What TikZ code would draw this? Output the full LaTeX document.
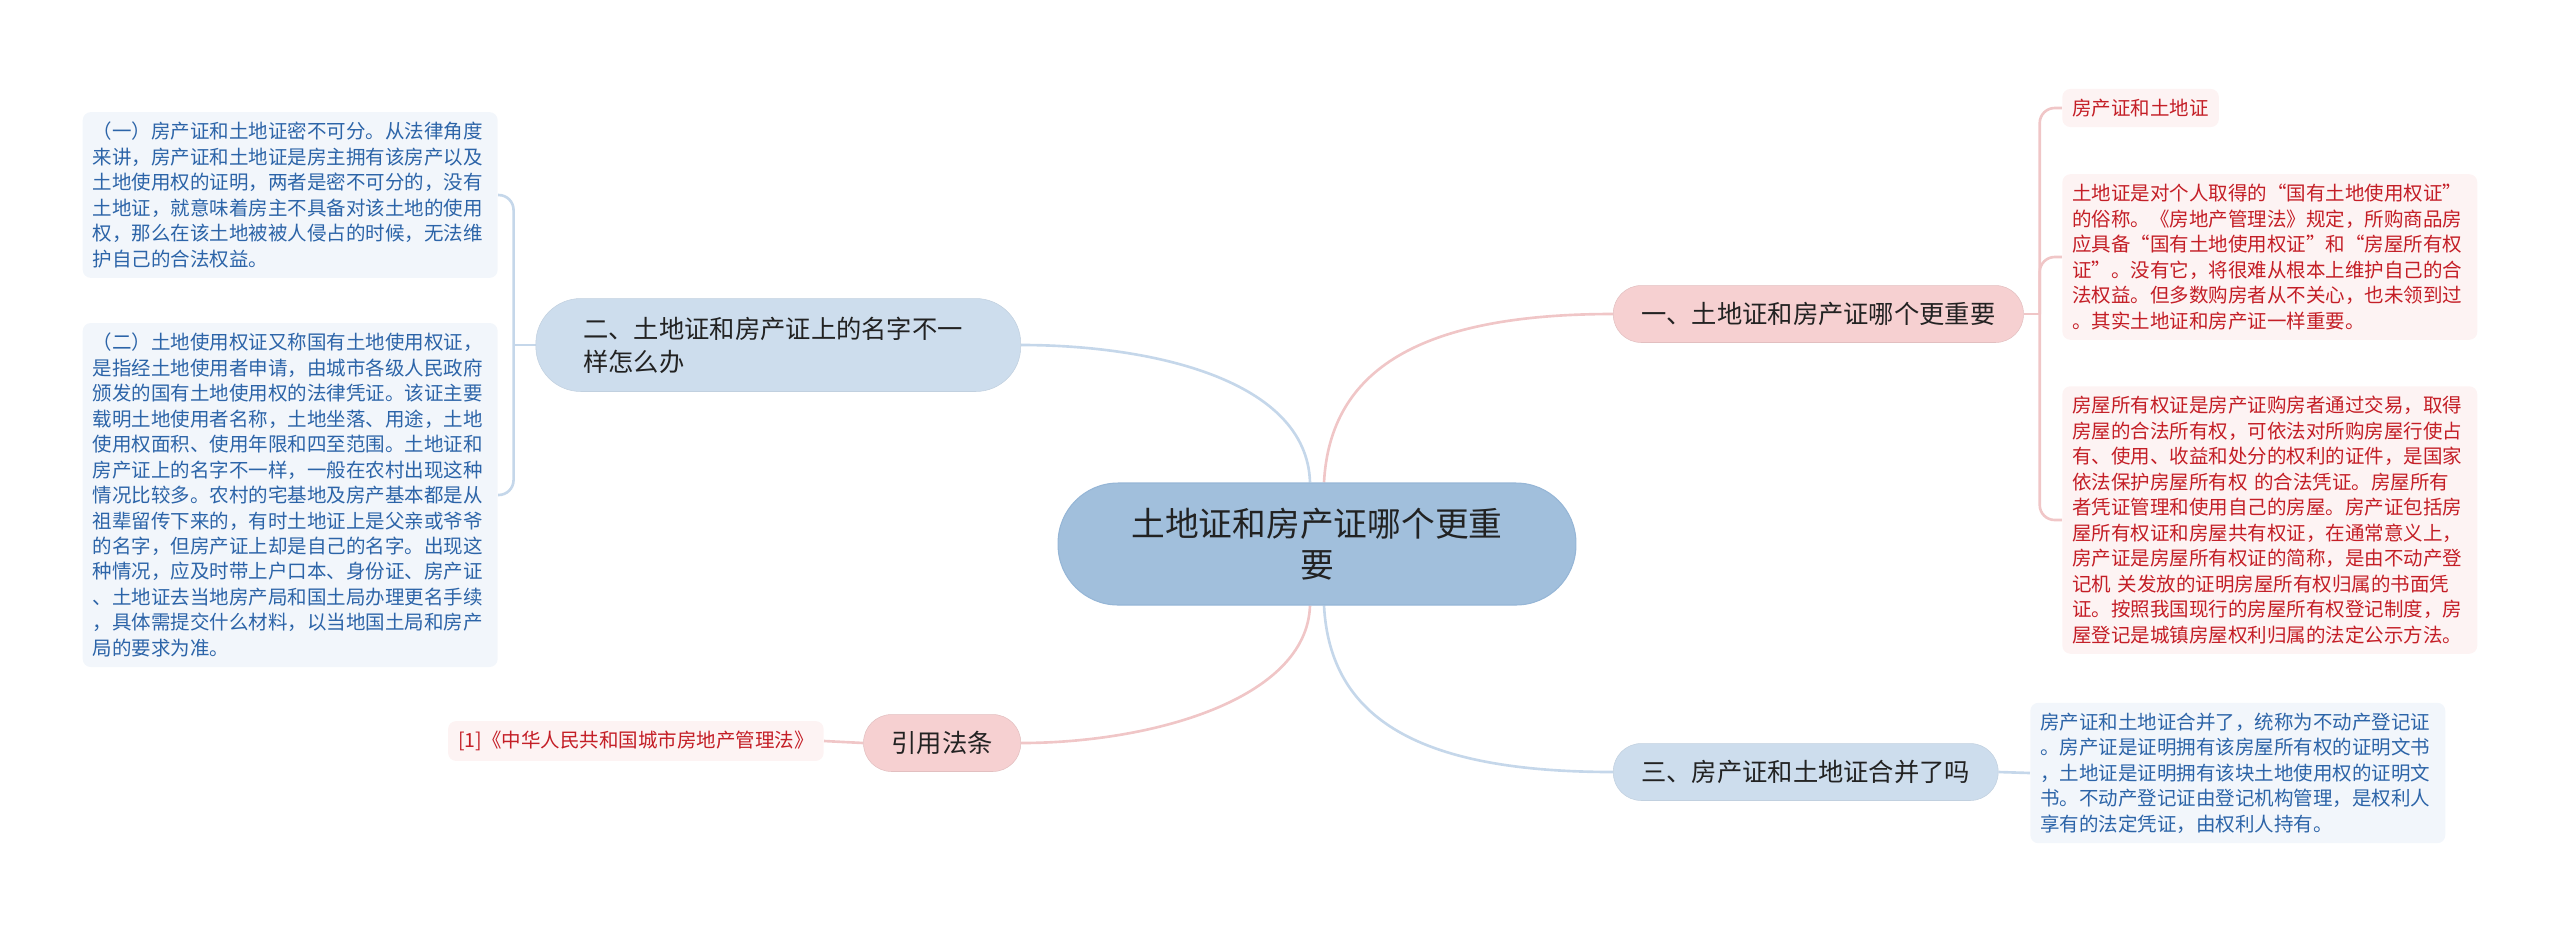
\documentclass[tikz,border=0pt]{standalone}
\usepackage{fontspec}
\setmainfont{Noto Sans CJK SC}
\usepackage{tikz}
\usepackage{xcolor}
\usetikzlibrary{calc, backgrounds}
\definecolor{cRoot}{RGB}{161,191,220}
\definecolor{cRootEdge}{RGB}{150,182,214}
\definecolor{cPink}{RGB}{246,208,209}
\definecolor{cPinkLine}{RGB}{240,198,199}
\definecolor{cBlue}{RGB}{205,221,237}
\definecolor{cBlueLine}{RGB}{197,215,234}
\definecolor{cLeafPink}{RGB}{253,243,243}
\definecolor{cLeafBlue}{RGB}{242,246,251}
\definecolor{cTextRed}{RGB}{196,30,38}
\definecolor{cTextBlue}{RGB}{44,100,168}
\definecolor{cText}{RGB}{34,34,34}
\tikzset{
	rootnode/.style ={rectangle, rounded corners=1.2cm, minimum width=10.36cm, minimum height=2.44cm, align=center, fill=cRoot, draw=cRootEdge, line width=0.6pt, text=cText, font=\fontsize{19.2pt}{23.3pt}\selectfont},
	branch/.style   ={rectangle, rounded corners=0.56cm, minimum height=1.14cm, inner xsep=0.56cm, text=cText, font=\fontsize{14.4pt}{18.8pt}\selectfont},
	branchRed/.style ={branch, fill=cPink, draw=cPink!92!black, line width=0.3pt},
	branchBlue/.style={branch, fill=cBlue, draw=cBlue!94!black, line width=0.3pt},
	leaf/.style     ={rectangle, rounded corners=0.16cm, inner xsep=0.2cm, inner ysep=0.2cm, align=left, font=\fontsize{11.1pt}{14.5pt}\selectfont},
	leafRed/.style  ={leaf, fill=cLeafPink, text=cTextRed},
	leafBlue/.style ={leaf, fill=cLeafBlue, text=cTextBlue},
	% connector styles
	linkRed/.style  ={draw=cPinkLine, line width=1.5pt},
	linkBlue/.style ={draw=cBlueLine, line width=1.5pt},
}
\begin{document}
\begin{tikzpicture}[x=0.02cm, y=-0.02cm]
	\useasboundingbox (0,0) rectangle (2560,931);
	\node[rootnode] (root) at (1317,544) {土地证和房产证哪个更重\\要};
	\node[branchRed, anchor=west] (b1) at (1613,314) {一、土地证和房产证哪个更重要};
	\node[branchBlue, anchor=east, text width=7.8cm, align=left, inner xsep=0.95cm, minimum height=1.86cm, rounded corners=0.9cm] (b2) at (1021,345) {二、土地证和房产证上的名字不一\\样怎么办};
	\node[branchBlue, anchor=west] (b3) at (1613,772) {三、房产证和土地证合并了吗};
	\node[branchRed, anchor=east] (b4) at (1021,743) {引用法条};
	% leaves of branch one
	\node[leafRed, anchor=west] (l1) at (2062,108) {房产证和土地证};
	\node[leafRed, anchor=west, text width=7.9cm] (l2) at (2062,257) {土地证是对个人取得的“国有土地使用权证”\\的俗称。《房地产管理法》规定，所购商品房\\应具备“国有土地使用权证”和“房屋所有权\\证”。没有它，将很难从根本上维护自己的合\\法权益。但多数购房者从不关心，也未领到过\\。其实土地证和房产证一样重要。};
	\node[leafRed, anchor=west, text width=7.9cm] (l3) at (2062,520) {房屋所有权证是房产证购房者通过交易，取得\\房屋的合法所有权，可依法对所购房屋行使占\\有、使用、收益和处分的权利的证件，是国家\\依法保护房屋所有权 的合法凭证。房屋所有\\者凭证管理和使用自己的房屋。房产证包括房\\屋所有权证和房屋共有权证，在通常意义上，\\房产证是房屋所有权证的简称，是由不动产登\\记机 关发放的证明房屋所有权归属的书面凭\\证。按照我国现行的房屋所有权登记制度，房\\屋登记是城镇房屋权利归属的法定公示方法。};
	% leaves of branch two
	\node[leafBlue, anchor=east, text width=7.9cm] (la) at (498,195) {（一）房产证和土地证密不可分。从法律角度\\来讲，房产证和土地证是房主拥有该房产以及\\土地使用权的证明，两者是密不可分的，没有\\土地证，就意味着房主不具备对该土地的使用\\权，那么在该土地被被人侵占的时候，无法维\\护自己的合法权益。};
	\node[leafBlue, anchor=east, text width=7.9cm] (lb) at (498,495) {（二）土地使用权证又称国有土地使用权证，\\是指经土地使用者申请，由城市各级人民政府\\颁发的国有土地使用权的法律凭证。该证主要\\载明土地使用者名称，土地坐落、用途，土地\\使用权面积、使用年限和四至范围。土地证和\\房产证上的名字不一样，一般在农村出现这种\\情况比较多。农村的宅基地及房产基本都是从\\祖辈留传下来的，有时土地证上是父亲或爷爷\\的名字，但房产证上却是自己的名字。出现这\\种情况，应及时带上户口本、身份证、房产证\\、土地证去当地房产局和国土局办理更名手续\\，具体需提交什么材料，以当地国土局和房产\\局的要求为准。};
	\node[leafBlue, anchor=west, text width=7.9cm] (lc) at (2030,773) {房产证和土地证合并了，统称为不动产登记证\\。房产证是证明拥有该房屋所有权的证明文书\\，土地证是证明拥有该块土地使用权的证明文\\书。不动产登记证由登记机构管理，是权利人\\享有的法定凭证，由权利人持有。};
	\node[leafRed, anchor=east] (ld) at (824,741) {[1]《中华人民共和国城市房地产管理法》};
	\coordinate (j1) at ($(b1.east)+(16,0)$);
	\coordinate (j2) at ($(b2.west)+(-22,0)$);
	\begin{scope}[on background layer]
		\draw[linkRed] ($(root.north)+(7,0)$) .. controls ($(root.north)+(13,-113)$) and ($(b1.west)+(-193,0)$) .. (b1.west);
		\draw[linkBlue] ($(root.north)+(-7,0)$) .. controls ($(root.north)+(-10,-103)$) and ($(b2.east)+(130,0)$) .. (b2.east);
		\draw[linkBlue] ($(root.south)+(7,0)$) .. controls ($(root.south)+(13,114)$) and ($(b3.west)+(-193,0)$) .. (b3.west);
		\draw[linkRed] ($(root.south)+(-7,0)$) .. controls ($(root.south)+(-10,94)$) and ($(b4.east)+(130,0)$) .. (b4.east);
		\draw[linkRed] (b1.east) -- (j1);
		\foreach \n in {l1,l2,l3}
			\draw[linkRed, rounded corners=0.3cm] (j1) |- (\n.west);
		\draw[linkBlue] (b2.west) -- (j2);
		\foreach \n in {la,lb}
			\draw[linkBlue, rounded corners=0.3cm] (j2) |- (\n.east);
		\draw[linkBlue] (b3.east) -- (lc.west);
		\draw[linkRed] (b4.west) -- (ld.east);
	\end{scope}
\end{tikzpicture}
\end{document}
